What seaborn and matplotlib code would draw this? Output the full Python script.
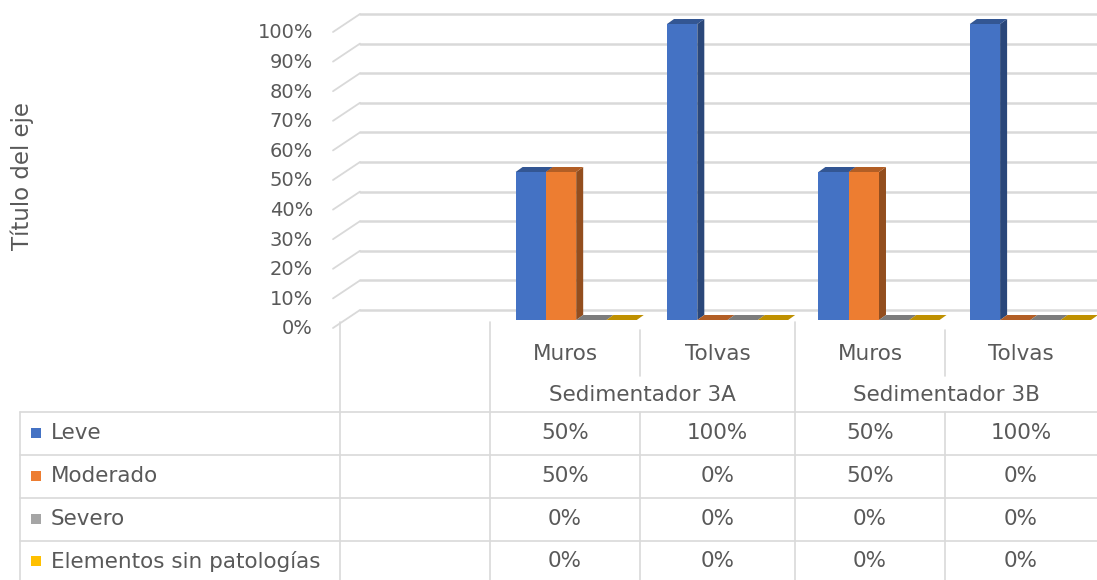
import numpy as np
import pandas as pd
import seaborn as sns
import matplotlib
matplotlib.use("Agg")
import matplotlib.pyplot as plt
from matplotlib.patches import Polygon, Rectangle
from matplotlib.lines import Line2D
from matplotlib.colors import to_rgb

# ---------------- data ----------------
groups = ["Sedimentador 3A", "Sedimentador 3B"]
elements = ["Muros", "Tolvas"]
series = ["Leve", "Moderado", "Severo", "Elementos sin patologías"]
leve = [0.50, 1.00, 0.50, 1.00]
moderado = [0.50, 0.00, 0.50, 0.00]
severo = [0.00, 0.00, 0.00, 0.00]
sin_patologias = [0.00, 0.00, 0.00, 0.00]
y_ticks = [0.0, 0.1, 0.2, 0.3, 0.4, 0.5, 0.6, 0.7, 0.8, 0.9, 1.0]
y_tick_labels = ["0%", "10%", "20%", "30%", "40%", "50%", "60%", "70%", "80%", "90%", "100%"]
axis_title = "Título del eje"
colors = ["#4472C4", "#ED7D31", "#A5A5A5", "#FFC000"]

col_keys = [f"{g}|{e}" for g in groups for e in elements]
values = [leve, moderado, severo, sin_patologias]
rows = []
for s, vals in zip(series, values):
    for k, v in zip(col_keys, vals):
        rows.append({"col": k, "serie": s, "value": v})
df = pd.DataFrame(rows)
order = [""] + col_keys  # first (blank) category of the chart is empty

# ---------------- figure ----------------
W, H = 1097, 580
sns.set_theme(style="white")
plt.rcParams["font.family"] = ["DejaVu Sans"]
TXT = "#595959"
GRID = "#d9d9d9"
TFS = 15.5  # table font size

fig = plt.figure(figsize=(W / 100, H / 100), dpi=100)
fig.patch.set_facecolor("white")
ax = fig.add_axes([340 / W, (H - 320) / H, (W - 340) / W, (320 - 24) / H])
ax.patch.set_alpha(0)

sns.barplot(data=df, x="col", y="value", hue="serie", order=order,
            hue_order=series, palette=colors, saturation=1, width=0.8,
            legend=False, ax=ax, linewidth=0, zorder=2)
ax.set_xlim(-0.5 - 0.06, 4.5 - 0.06)
ax.set_ylim(0, 1)
ax.set_xticks([])
ax.set_yticks([])
ax.set_xlabel("")
ax.set_ylabel("")
for sp in ax.spines.values():
    sp.set_visible(False)


def fx(px):
    return px / W


def fy_top(py):  # pixel from top -> figure fraction
    return 1 - py / H


def disp_y(v):
    return ax.transData.transform((0, v))[1]


# back-wall gridlines + connectors + tick labels
for v, lab in zip(y_ticks, y_tick_labels):
    d = disp_y(v)
    back = (d + 10) / H
    front = (d - 8) / H
    ax.add_line(Line2D([fx(360), 1.0], [back, back], transform=fig.transFigure,
                       color=GRID, lw=1.8, clip_on=False, zorder=0.5))
    ax.add_line(Line2D([fx(333), fx(360)], [front, back], transform=fig.transFigure,
                       color=GRID, lw=1.3, clip_on=False, zorder=0.5))
    fig.text(fx(313), front - 1 / H, lab, ha="right", va="center",
             fontsize=14, color=TXT)

# pseudo-3D faces derived from each bar
bars = [p for p in ax.patches if isinstance(p, Rectangle) and np.isfinite(p.get_height())]
bars.sort(key=lambda p: p.get_x())
DX, DY = 7, 5
for i, p in enumerate(bars):
    z = 2 + i * 0.01
    p.set_zorder(z + 0.005)
    base = np.array(to_rgb(p.get_facecolor()))
    x0, y0 = ax.transData.transform((p.get_x(), 0))
    x1, y1 = ax.transData.transform((p.get_x() + p.get_width(), p.get_height()))
    side = [(x1, y0), (x1 + DX, y0 + DY), (x1 + DX, y1 + DY), (x1, y1)]
    top = [(x0, y1), (x0 + DX, y1 + DY), (x1 + DX, y1 + DY), (x1, y1)]
    for pts, f, zz in [(side, 0.62, z), (top, 0.75, z + 0.002)]:
        pts_f = [(a / W, b / H) for a, b in pts]
        ax.add_patch(Polygon(pts_f, closed=True, transform=fig.transFigure,
                             facecolor=base * f, edgecolor="none",
                             clip_on=False, zorder=zz))

# axis title
fig.text(fx(22), fy_top(176), axis_title, rotation=90, ha="center", va="center",
         fontsize=16.5, color=TXT)

# ---------------- data table ----------------
col_edges = [20, 340, 490, 640, 795, 945, 1097]
col_centers = [(col_edges[i] + col_edges[i + 1]) / 2 for i in range(2, 6)]
group_centers = [(col_edges[2] + col_edges[4]) / 2, (col_edges[4] + col_edges[6]) / 2]
row_lines = [412, 455, 498, 541]
row_centers = [433, 476, 519, 561]


def hline(py, xa, xb):
    fig.add_artist(Line2D([fx(xa), fx(xb)], [fy_top(py), fy_top(py)],
                          transform=fig.transFigure, color=GRID, lw=1.2))


def vline(px, ya, yb):
    fig.add_artist(Line2D([fx(px), fx(px)], [fy_top(ya), fy_top(yb)],
                          transform=fig.transFigure, color=GRID, lw=1.2))


for r in row_lines:
    hline(r, 20, 1097)
vline(20, 412, 580)
vline(340, 322, 580)
vline(490, 322, 580)
vline(795, 322, 580)
vline(640, 330, 376)
vline(640, 412, 580)
vline(945, 330, 376)
vline(945, 412, 580)

for k, c in zip(col_keys, col_centers):
    fig.text(fx(c), fy_top(354), k.split("|")[1], ha="center", va="center",
             fontsize=TFS, color=TXT)
for g, c in zip(groups, group_centers):
    fig.text(fx(c), fy_top(395), g, ha="center", va="center",
             fontsize=TFS, color=TXT)

for s, vals, col, rc in zip(series, values, colors, row_centers):
    fig.add_artist(Rectangle((fx(31), fy_top(rc + 5)), 10 / W, 10 / H,
                             transform=fig.transFigure, facecolor=col,
                             edgecolor="none"))
    fig.text(fx(51), fy_top(rc), s, ha="left", va="center", fontsize=TFS, color=TXT)
    for v, c in zip(vals, col_centers):
        fig.text(fx(c), fy_top(rc), f"{int(round(v * 100))}%", ha="center",
                 va="center", fontsize=TFS, color=TXT)

fig.savefig("out.png", dpi=100, facecolor="white")
